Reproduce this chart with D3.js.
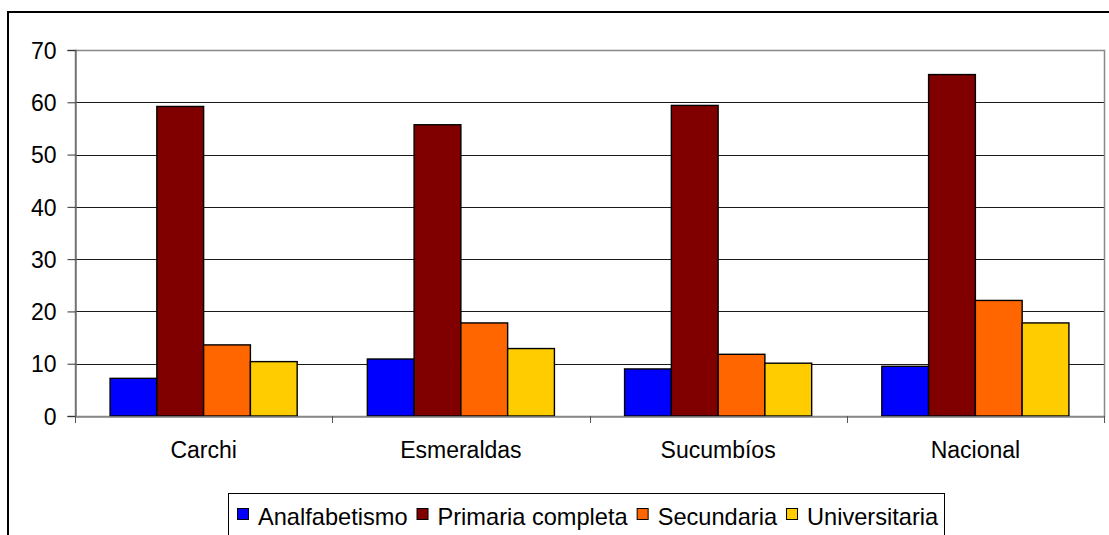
<!DOCTYPE html>
<html>
<head>
<meta charset="utf-8">
<script src="https://cdn.jsdelivr.net/npm/d3@7"></script>
<style>
  html, body { margin: 0; padding: 0; background: #fff; }
  svg { display: block; }
  text { font-family: "Liberation Sans", Arial, sans-serif; fill: #000; }
</style>
</head>
<body>
<svg id="chart" width="1109" height="535"></svg>
<script>
const categories = ["Carchi", "Esmeraldas", "Sucumbíos", "Nacional"];
const seriesNames = ["Analfabetismo", "Primaria completa", "Secundaria", "Universitaria"];
const seriesColors = ["#0000FF", "#800000", "#FF6600", "#FFCC00"];
const analfabetismo = [7.2, 10.9, 9.0, 9.5];
const primaria = [59.2, 55.7, 59.4, 65.3];
const secundaria = [13.6, 17.8, 11.8, 22.1];
const universitaria = [10.4, 12.9, 10.1, 17.8];
const yTicks = [0, 10, 20, 30, 40, 50, 60, 70];

const seriesValues = [analfabetismo, primaria, secundaria, universitaria];

const FONT = "Liberation Sans, Arial, sans-serif";
const FS = 23;
const svg = d3.select("#chart");
const plot = { left: 75, right: 1104, top: 50, bottom: 416 };

// outer frame
svg.append("rect")
  .attr("x", 8).attr("y", 12)
  .attr("width", 1130).attr("height", 600)
  .attr("fill", "none").attr("stroke", "#000").attr("stroke-width", 2);

const x0 = d3.scaleBand().domain(categories).range([plot.left, plot.right]).paddingInner(0).paddingOuter(0);
// gap width 150%: category = 4w + 1.5w
const bw = x0.bandwidth() / 5.5;
const y = d3.scaleLinear().domain([0, 70]).range([plot.bottom, plot.top]);

// gridlines
svg.append("g").selectAll("line")
  .data(yTicks.filter(t => t > 0 && t < 70))
  .join("line")
  .attr("x1", plot.left).attr("x2", plot.right)
  .attr("y1", d => Math.round(y(d)) + 0.5).attr("y2", d => Math.round(y(d)) + 0.5)
  .attr("stroke", "#1a1a1a").attr("stroke-width", 1);

// plot area border (gray)
svg.append("rect")
  .attr("x", plot.left + 0.5).attr("y", plot.top + 0.5)
  .attr("width", plot.right - plot.left).attr("height", plot.bottom - plot.top)
  .attr("fill", "none").attr("stroke", "#888").attr("stroke-width", 1.5);

// bars
const groups = svg.append("g").selectAll("g")
  .data(categories)
  .join("g");

groups.each(function(cat, ci) {
  const g = d3.select(this);
  const start = x0(cat) + (x0.bandwidth() - 4 * bw) / 2;
  seriesValues.forEach((vals, si) => {
    g.append("rect")
      .attr("x", start + si * bw)
      .attr("y", y(vals[ci]))
      .attr("width", bw)
      .attr("height", y(0) - y(vals[ci]))
      .attr("fill", seriesColors[si])
      .attr("stroke", "#000")
      .attr("stroke-width", 1.4);
  });
});

// y axis
const yAxis = d3.axisLeft(y).tickValues(yTicks).tickSize(8).tickPadding(11);
const ya = svg.append("g")
  .attr("transform", `translate(${plot.left + 0.5},0)`)
  .call(yAxis);
ya.attr("font-size", FS).attr("font-family", FONT);
ya.select(".domain").attr("stroke", "#666").attr("stroke-width", 1.3);
ya.selectAll(".tick line").attr("stroke", "#333");
ya.selectAll("text").attr("dy", "0.36em");

// x axis
const xAxis = d3.axisBottom(x0).tickSize(0).tickPadding(0);
const xa = svg.append("g")
  .attr("transform", `translate(0,${plot.bottom + 0.5})`)
  .call(xAxis);
xa.attr("font-size", FS).attr("font-family", FONT);
xa.select(".domain").attr("stroke", "#888").attr("stroke-width", 1.5);
xa.selectAll("text").attr("dy", null).attr("y", 41.5);

// category separator ticks
svg.append("g").selectAll("line")
  .data(categories.slice(1).concat(["__end"]))
  .join("line")
  .attr("x1", d => Math.round(d === "__end" ? plot.right : x0(d)) + 0.5)
  .attr("x2", d => Math.round(d === "__end" ? plot.right : x0(d)) + 0.5)
  .attr("y1", plot.bottom).attr("y2", plot.bottom + 7)
  .attr("stroke", "#555").attr("stroke-width", 1);
svg.append("line")
  .attr("x1", plot.left + 0.5).attr("x2", plot.left + 0.5)
  .attr("y1", plot.bottom).attr("y2", plot.bottom + 7)
  .attr("stroke", "#555");

// legend
const lg = svg.append("g");
lg.append("rect")
  .attr("x", 228.5).attr("y", 493.5)
  .attr("width", 716).attr("height", 60)
  .attr("fill", "#fff").attr("stroke", "#000").attr("stroke-width", 1);
let lx = 237;
seriesNames.forEach((name, i) => {
  lg.append("rect")
    .attr("x", lx + 0.5).attr("y", 508.5)
    .attr("width", 11).attr("height", 11)
    .attr("fill", seriesColors[i]).attr("stroke", "#000").attr("stroke-width", 1);
  const t = lg.append("text")
    .attr("x", lx + 21).attr("y", 524.5)
    .attr("font-size", 23.6).attr("font-family", FONT)
    .text(name);
  lx += 21 + t.node().getComputedTextLength() + 9;
});
</script>
</body>
</html>
